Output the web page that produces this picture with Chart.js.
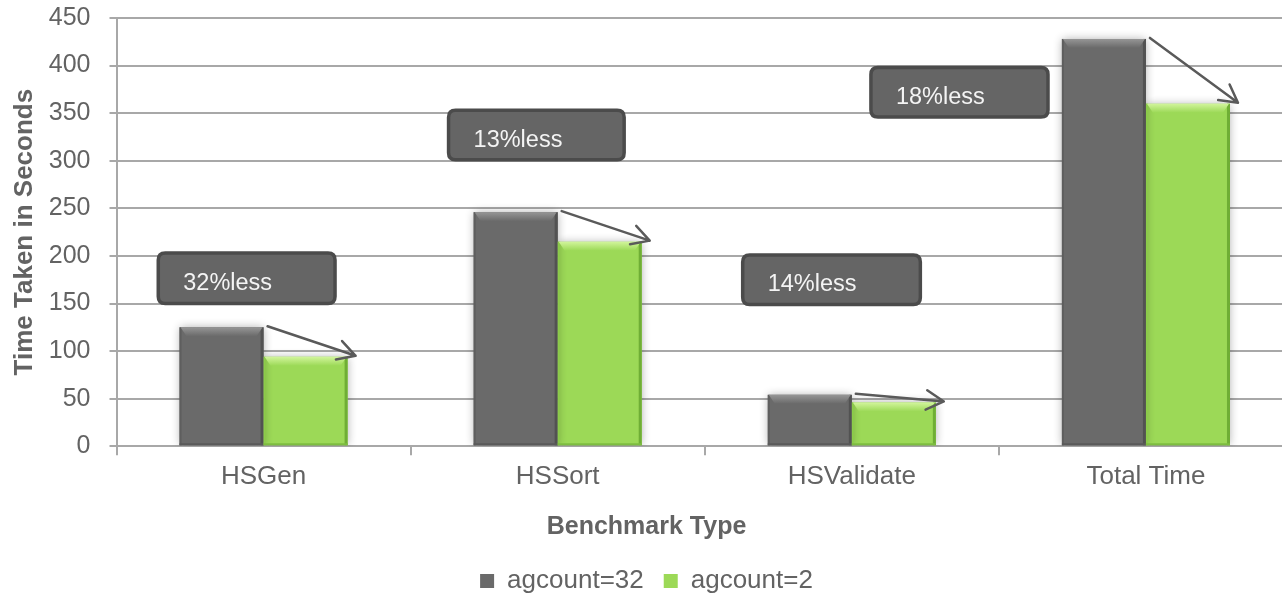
<!DOCTYPE html>
<html>
<head>
<meta charset="utf-8">
<title>Benchmark Type</title>
<script src="https://cdn.jsdelivr.net/npm/chart.js@4/dist/chart.umd.min.js"></script>
<style>
  html, body { margin: 0; padding: 0; background: #ffffff; overflow: hidden; width: 1282px; height: 595px; }
  #wrap { position: absolute; left: 0; top: 0; width: 1293px; height: 604px; }
</style>
</head>
<body>
<div id="wrap"><canvas id="chart" width="1293" height="604"></canvas></div>
<script>
// ---- data ----
const categories = ['HSGen', 'HSSort', 'HSValidate', 'Total Time'];
const seriesNames = ['agcount=32', 'agcount=2'];
const agcount32 = [125, 246, 54, 428];
const agcount2 = [94, 215, 46, 360];
const yMin = 0;
const yMax = 450;
const yStep = 50;
const noteLabels = ['32%less', '13%less', '14%less', '18%less'];

// ---- look ----
const FONT = "'Liberation Sans', Arial, Helvetica, sans-serif";
const TEXT = '#636363';
const GRID = '#a8a8a8';
const barColors = ['#6a6a6a', '#9cd957'];
const bevelTones = [
  { hi: '#969696', base: '#6a6a6a', sideL: '#5e5e5e', sideR: '#525252', foot: '#5a5a5a' },
  { hi: '#d2f59c', base: '#9cd957', sideL: '#8ccb4a', sideR: '#6fae35', foot: '#7dbd40' }
];

// callout boxes: category index, left/right as fraction of a category width
// from the category centre, and top/bottom on the value axis
const noteBoxes = [
  { cat: 0, from: -0.358, to: 0.243, top: 203, bottom: 150 },
  { cat: 1, from: -0.371, to: 0.226, top: 353, bottom: 301 },
  { cat: 2, from: -0.371, to: 0.233, top: 201, bottom: 149 },
  { cat: 3, from: -0.935, to: -0.333, top: 398, bottom: 346 }
];

function roundRectPath(c, x, y, w, h, r) {
  c.beginPath();
  c.moveTo(x + r, y);
  c.lineTo(x + w - r, y);
  c.quadraticCurveTo(x + w, y, x + w, y + r);
  c.lineTo(x + w, y + h - r);
  c.quadraticCurveTo(x + w, y + h, x + w - r, y + h);
  c.lineTo(x + r, y + h);
  c.quadraticCurveTo(x, y + h, x, y + h - r);
  c.lineTo(x, y + r);
  c.quadraticCurveTo(x, y, x + r, y);
  c.closePath();
}

function drawArrow(c, x1, y1, x2, y2) {
  const ang = Math.atan2(y2 - y1, x2 - x1);
  const head = 20, spread = 29 * Math.PI / 180;
  c.save();
  c.strokeStyle = '#5a5a5a';
  c.lineWidth = 2.5;
  c.lineCap = 'round';
  c.lineJoin = 'round';
  c.beginPath();
  c.moveTo(x1, y1);
  c.lineTo(x2, y2);
  c.moveTo(x2 - head * Math.cos(ang - spread), y2 - head * Math.sin(ang - spread));
  c.lineTo(x2, y2);
  c.lineTo(x2 - head * Math.cos(ang + spread), y2 - head * Math.sin(ang + spread));
  c.stroke();
  c.restore();
}

// soft shadow under the bars, bevel highlights, arrows and callouts
const decor = {
  id: 'decor',
  beforeDatasetsDraw(chart) {
    const c = chart.ctx;
    c.save();
    c.shadowColor = 'rgba(0,0,0,0.33)';
    c.shadowBlur = 9;
  },
  afterDatasetsDraw(chart) {
    const c = chart.ctx;
    c.restore();

    chart.data.datasets.forEach((ds, di) => {
      const tone = bevelTones[di];
      chart.getDatasetMeta(di).data.forEach(bar => {
        const l = bar.x - bar.width / 2, r = bar.x + bar.width / 2;
        const t = bar.y, b = bar.base;
        c.save();
        c.fillStyle = tone.sideL;
        c.fillRect(l, t, 2, b - t);
        c.fillStyle = tone.sideR;
        c.fillRect(r - 3, t, 3, b - t);
        c.fillStyle = tone.foot;
        c.fillRect(l, b - 2, r - l, 2);
        const g = c.createLinearGradient(0, t, 0, t + 9);
        g.addColorStop(0, tone.hi);
        g.addColorStop(1, tone.base);
        c.fillStyle = g;
        c.beginPath();
        c.moveTo(l + 1, t);
        c.lineTo(r - 1, t);
        c.lineTo(r - 7, t + 9);
        c.lineTo(l + 7, t + 9);
        c.closePath();
        c.fill();
        c.restore();
      });
    });

    // arrows from the agcount=32 bar top to the agcount=2 bar top
    const m0 = chart.getDatasetMeta(0).data;
    const m1 = chart.getDatasetMeta(1).data;
    m0.forEach((a, i) => {
      const b = m1[i];
      drawArrow(c, a.x + a.width / 2 + 4, a.y - 1, b.x + b.width / 2 + 8, b.y - 1);
    });

    // callouts
    const xs = chart.scales.x, ys = chart.scales.y;
    const catW = (xs.right - xs.left) / categories.length;
    noteBoxes.forEach((n, i) => {
      const cx = xs.getPixelForValue(n.cat);
      const x1 = cx + n.from * catW, x2 = cx + n.to * catW;
      const y1 = ys.getPixelForValue(n.top), y2 = ys.getPixelForValue(n.bottom);
      c.save();
      roundRectPath(c, x1, y1, x2 - x1, y2 - y1, 7);
      c.fillStyle = '#656565';
      c.fill();
      c.lineWidth = 3.5;
      c.strokeStyle = '#4b4b4b';
      c.stroke();
      c.fillStyle = '#f4f4f4';
      c.font = '23.5px ' + FONT;
      c.textBaseline = 'middle';
      c.textAlign = 'left';
      c.fillText(noteLabels[i], x1 + 25, (y1 + y2) / 2 + 5);
      c.restore();
    });
  }
};

new Chart(document.getElementById('chart'), {
  type: 'bar',
  data: {
    labels: categories,
    datasets: [
      { label: seriesNames[0], data: agcount32, backgroundColor: barColors[0], borderWidth: 0 },
      { label: seriesNames[1], data: agcount2, backgroundColor: barColors[1], borderWidth: 0 }
    ]
  },
  options: {
    responsive: false,
    animation: false,
    events: [],
    layout: { padding: { top: 18, right: 0, bottom: 0, left: 0 } },
    datasets: {
      bar: { categoryPercentage: 2 / 3.5, barPercentage: 1.0 }
    },
    scales: {
      x: {
        offset: true,
        grid: {
          display: true, offset: true, drawOnChartArea: false, drawTicks: true,
          tickLength: 9, color: GRID, lineWidth: 2
        },
        border: { display: true, color: GRID, width: 2 },
        ticks: { color: TEXT, padding: 6.4, font: { family: FONT, size: 26 } }
      },
      y: {
        min: yMin,
        max: yMax,
        afterFit(scale) {
          scale.width = 116.5;
          scale.paddingTop = 0;
          scale.paddingBottom = 0;
        },
        grid: { color: GRID, lineWidth: 2, drawTicks: true, tickLength: 7 },
        border: { display: true, color: GRID, width: 2 },
        ticks: { stepSize: yStep, color: TEXT, padding: 19, font: { family: FONT, size: 25 } },
        title: {
          display: true,
          text: 'Time Taken in Seconds',
          color: TEXT,
          font: { family: FONT, size: 26, weight: 'bold' },
          padding: { top: 9.4, bottom: 0 }
        }
      }
    },
    plugins: {
      tooltip: { enabled: false },
      title: {
        display: true,
        text: 'Benchmark Type',
        position: 'bottom',
        weight: 500,
        color: TEXT,
        font: { family: FONT, size: 25, weight: 'bold' },
        padding: { top: 13, bottom: 5.75 }
      },
      legend: {
        display: true,
        position: 'bottom',
        labels: {
          boxWidth: 14,
          boxHeight: 14,
          padding: 20,
          color: TEXT,
          font: { family: FONT, size: 26 }
        }
      }
    }
  },
  plugins: [decor]
});
</script>
</body>
</html>
